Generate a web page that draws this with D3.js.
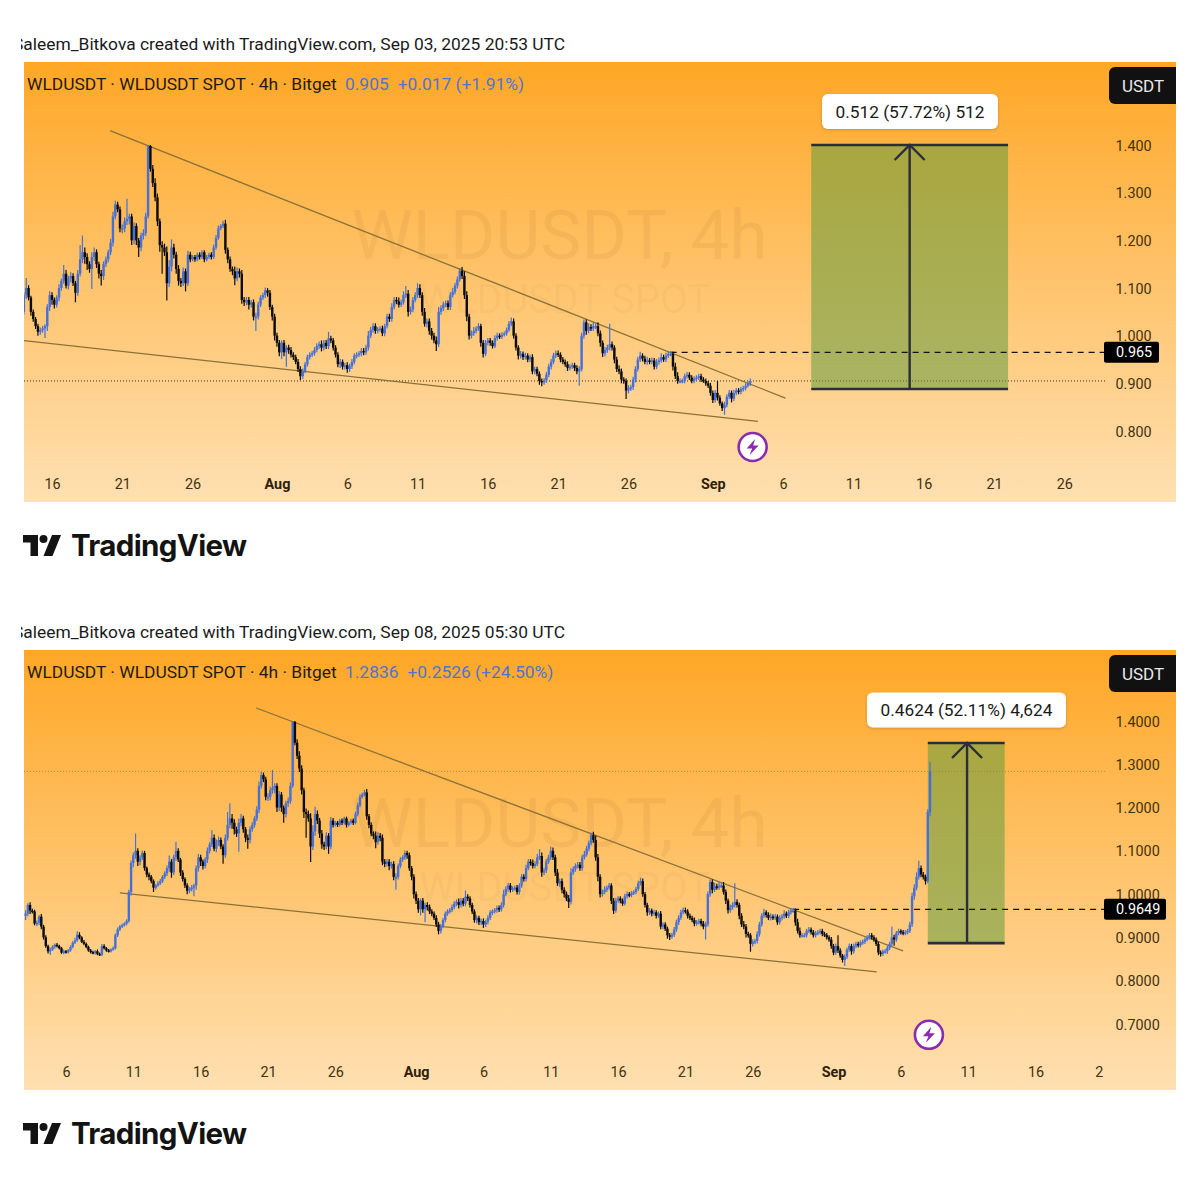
<!DOCTYPE html>
<html>
<head>
<meta charset="utf-8">
<style>
  html, body { margin: 0; background: #fff; }
  svg { display: block; }
  text { font-family: Roboto, sans-serif; }
  .tick text { font-size: 14.4px; fill: #43300f; font-family: Roboto, sans-serif; }
  .tick text.month { font-weight: 700; fill: #2e2008; }
</style>
</head>
<body>
<div id="chart"></div>
<script src="https://d3js.org/d3.v7.min.js"></script>
<script>
// 4h closes in thousandths of USDT, one row per day
var closesJul = [
  955,975,962,960,932,934, 948,925,900,880,868,872, 878,883,880,875,865,868,
  866,870,878,888,893,906, 900,890,885,878,870,866, 864,868,862,860,880,875,
  870,868,872,875,905,918, 925,928,932,938,1005,1072, 1090,1100,1075,1085,1095,1060,
  1045,1040,1030,1015,1020,1025, 1030,1040,1048,1060,1075,1050, 1085,1100,1080,1050,1035,1020,
  1008,1012,1015,1020,1060,1085, 1075,1065,1080,1100,1115,1130, 1105,1120,1125,1110,1090,1130,
  1160,1175,1165,1150,1140,1165, 1175,1150,1130,1125,1150,1160, 1175,1195,1250,1275,1265,1225,
  1225,1240,1245,1250,1200,1230, 1200,1185,1210,1215,1250,1398, 1350,1320,1290,1240,1190,1185,
  1175,1110,1145,1185,1170,1140, 1115,1110,1135,1110,1170,1160, 1165,1160,1170,1165,1175,1160,
  1165,1170,1165,1185,1205,1225, 1230,1235,1180,1160,1140,1135, 1120,1135,1130,1075,1070,1075,
  1065,1070,1040,1040,1065,1080, 1085,1095,1090,1060,1040,1000
];
var closesAug = [
  985,965,985,965,975,970, 960,955,945,930,915,925, 940,955,960,963,970,978,
  982,975,985,978,994,990, 975,960,940,945,935,938, 930,936,945,958,960,963,
  968,965,975,1000,1012,1020, 1010,1013,1015,1005,1020,1040, 1035,1060,1075,1072,1065,1070,
  1085,1088,1050,1055,1075,1085, 1100,1085,1050,1025,1030,1010, 1000,990,982,1050,1058,1065,
  1068,1060,1085,1092,1105,1118, 1136,1125,1085,1040,1000,1005, 1010,1015,1020,985,962,985,
  990,985,978,995,1000,998, 1002,1005,1012,1025,1030,1000, 975,958,962,955,958,950,
  955,925,930,920,905,902, 906,918,935,945,958,963, 960,950,945,940,932,935,
  938,932,925,930,1000,1028, 1010,1018,1015,1020,1020,1005, 985,963,970,975,982,975,
  950,930,925,908,905,885, 890,892,908,930,950,958, 952,945,948,945,948,935,
  945,948,955,950,958,962, 962,935,915,905,905,905, 915,918,912,905,910,912,
  915,908,905,900,895,880
];
var closesSep = [
  865,880,870,858,848,855, 872,880,868,880,885,882, 888,890,895,900,905,900,
  895,885,865,862,868,868, 876,885,900,895,910,915, 912,910,912,915,930,995,
  1015,1040,1060,1045,1040,1030, 1190,1283.6
];
// upper and lower wick lengths, same unit
var wickUpJul = [
  8,4,6,4,4,5, 4,6,4,5,3,4, 4,3,4,3,3,4, 3,3,4,3,6,8, 6,3,4,3,3,3, 3,3,4,3,5,4,
  3,3,3,4,4,5, 4,4,3,4,5,6, 6,40,6,5,6,5, 4,5,4,4,3,5, 5,4,5,6,14,6, 6,21,6,4,5,4,
  5,5,6,4,6,8, 6,5,5,8,5,18, 8,6,8,6,5,8, 30,35,10,8,6,10, 10,6,5,8,6,6, 5,8,10,8,6,6,
  8,8,42,6,6,8, 6,5,6,8,8,2, 2,8,10,8,6,8, 8,12,14,17,8,6, 8,6,8,6,8,6, 4,4,4,5,4,4,
  4,4,5,6,6,6, 4,6,8,5,6,5, 10,8,6,8,6,6, 6,5,6,8,6,5, 5,6,5,6,5,6
];
var wickDownJul = [
  10,6,8,5,4,6, 5,6,5,4,5,8, 3,4,3,3,3,4, 3,3,3,3,3,3, 4,3,3,3,3,3, 3,4,3,3,3,3,
  3,3,3,3,3,4, 3,3,3,4,4,8, 10,8,10,8,6,6, 6,8,5,10,4,3, 4,4,5,6,8,12, 6,8,6,8,6,6,
  8,6,6,20,10,8, 10,8,6,8,6,6, 6,8,8,6,20,6, 6,8,14,12,8,42, 8,8,10,20,8,6, 6,6,8,6,6,8,
  10,8,8,12,10,8, 10,20,8,8,6,4, 6,8,8,10,14,55, 8,36,8,10,8,10, 10,8,6,17,6,6, 4,5,4,5,4,6,
  4,4,5,4,5,4, 4,4,8,8,6,8, 14,6,8,8,8,6, 10,6,8,30,6,5, 5,6,8,6,8,10
];
var wickUpAug = [
  6,6,5,6,5,6, 6,5,5,6,6,6, 5,5,5,5,6,6, 6,8,6,6,14,6, 5,5,5,6,5,5, 6,5,6,5,5,5,
  6,6,6,10,6,6, 6,5,5,6,5,6, 6,8,6,6,8,6, 8,16,8,6,6,6, 10,8,6,8,6,6, 6,6,8,10,6,6,
  6,6,6,8,6,6, 6,8,10,8,6,6, 8,5,6,5,6,6, 5,5,5,6,6,5, 5,4,5,6,8,6, 5,5,6,5,6,5,
  5,6,5,5,5,5, 5,6,6,6,6,6, 6,5,5,5,6,5, 5,5,6,6,6,6, 6,8,6,8,6,8, 6,5,6,6,43,6,
  5,6,8,6,5,5, 6,5,6,6,6,8, 5,6,8,5,6,5, 6,6,8,5,6,6, 6,5,8,8,5,5, 5,6,5,5,5,5,
  5,5,5,5,5,6
];
var wickDownAug = [
  8,8,14,8,30,8, 6,6,5,6,8,6, 4,5,5,5,5,5, 6,8,6,6,6,6, 6,6,6,8,6,6, 8,6,6,5,6,5,
  6,6,5,6,5,6, 6,5,5,6,6,5, 6,6,5,6,6,5, 5,6,10,6,6,5, 6,6,8,6,8,8, 8,6,14,6,6,6,
  5,6,6,5,5,6, 5,6,8,10,8,6, 5,5,5,8,8,5, 5,6,5,4,5,5, 5,4,5,4,5,6, 6,8,6,6,5,6,
  5,6,6,5,8,8, 5,5,5,6,5,5, 5,6,5,5,6,5, 5,6,6,30,5,6, 8,5,5,5,6,6, 8,8,6,6,6,6,
  8,6,6,8,6,18, 6,6,6,6,5,5, 6,5,6,5,5,6, 5,6,5,5,5,5, 5,8,6,6,5,5, 5,5,5,5,5,5,
  5,5,4,5,5,6
];
var wickUpSep = [
  5,6,25,5,4,6, 5,6,5,6,5,5, 5,5,5,5,5,5, 5,5,5,5,4,5, 5,5,25,6,5,5, 4,5,5,5,6,8,
  8,10,17,6,6,5, 6,22
];
var wickDownSep = [
  6,5,6,5,6,14, 5,5,8,5,5,5, 5,5,5,4,5,5, 5,5,6,6,5,5, 6,5,6,14,5,5, 5,5,5,5,5,6,
  8,6,6,6,6,8, 4,10
];

var topDates = ['2025-07-16','2025-07-21','2025-07-26','2025-08-01','2025-08-06','2025-08-11','2025-08-16','2025-08-21','2025-08-26','2025-09-01','2025-09-06','2025-09-11','2025-09-16','2025-09-21','2025-09-26'];
var topDateLabels = ['16','21','26','Aug','6','11','16','21','26','Sep','6','11','16','21','26'];
var bottomDates = ['2025-07-06','2025-07-11','2025-07-16','2025-07-21','2025-07-26','2025-08-01','2025-08-06','2025-08-11','2025-08-16','2025-08-21','2025-08-26','2025-09-01','2025-09-06','2025-09-11','2025-09-16','2025-09-21'];
var bottomDateLabels = ['6','11','16','21','26','Aug','6','11','16','21','26','Sep','6','11','16','2'];
var topPrices = [0.8, 0.9, 1.0, 1.1, 1.2, 1.3, 1.4];
var bottomPrices = [0.7, 0.8, 0.9, 1.0, 1.1, 1.2, 1.3, 1.4];

// shared trendlines [date, price]
var upperTrend = [['2025-07-20T03:00Z', 1.43], ['2025-09-06T04:00Z', 0.869]];
var lowerTrend = [['2025-07-10T00:00Z', 1.0028], ['2025-09-04T05:00Z', 0.8203]];

var H4 = 4 * 3600 * 1000,
    start = Date.UTC(2025, 6, 3),
    closes = closesJul.concat(closesAug, closesSep),
    wickUp = wickUpJul.concat(wickUpAug, wickUpSep),
    wickDown = wickDownJul.concat(wickDownAug, wickDownSep);

var candles = closes.map(function (c, i) {
  var o = i ? closes[i - 1] : 950;
  return {
    date: new Date(start + i * H4),
    open: o / 1000,
    close: c / 1000,
    high: (Math.max(o, c) + wickUp[i]) / 1000,
    low: (Math.min(o, c) - wickDown[i]) / 1000
  };
});

var svg = d3.select('#chart').append('svg').attr('width', 1200).attr('height', 1200);
var defs = svg.append('defs');

var grad = defs.append('linearGradient').attr('id', 'bg').attr('x1', 0).attr('y1', 0).attr('x2', 0).attr('y2', 1);
grad.append('stop').attr('offset', 0).attr('stop-color', '#ffa726');
grad.append('stop').attr('offset', 1).attr('stop-color', '#ffe0b2');

var shadow = defs.append('filter').attr('id', 'soft').attr('x', '-10%').attr('y', '-20%').attr('width', '120%').attr('height', '150%');
shadow.append('feDropShadow').attr('dx', 0).attr('dy', 1).attr('stdDeviation', 1.5).attr('flood-color', '#000').attr('flood-opacity', 0.2);

function drawPanel(p) {
  var g = svg.append('g');
  var clipId = 'plot' + p.top;

  defs.append('clipPath').attr('id', clipId).append('rect')
    .attr('x', 24).attr('y', p.top).attr('width', 1081).attr('height', 440);
  defs.append('clipPath').attr('id', 'title' + p.top).append('rect')
    .attr('x', 21).attr('y', p.top - 30).attr('width', 1100).attr('height', 30);

  // the range ends on the Sep 21 (top) and Sep 16 (bottom) ticks
  var x = d3.scaleUtc().domain([new Date(p.dates[0]), new Date(p.xEnd)]).range(p.xRange);
  var y = d3.scaleLinear().domain([p.prices[0], 1.4]).range(p.yRange);

  g.append('text').attr('clip-path', 'url(#title' + p.top + ')')
    .attr('x', 13).attr('y', p.top - 12)
    .attr('font-size', 17.4).attr('fill', '#1a1a1a').text(p.title);

  g.append('rect').attr('x', 24).attr('y', p.top).attr('width', 1152).attr('height', 440).attr('fill', 'url(#bg)');

  // watermark
  g.append('text').attr('x', 559.5).attr('y', p.top + 197).attr('text-anchor', 'middle')
    .attr('font-size', 69.2).attr('fill', 'rgba(70,40,0,0.055)').text('WLDUSDT, 4h');
  g.append('text').attr('x', 565).attr('y', p.top + 251).attr('text-anchor', 'middle')
    .attr('font-size', 40).attr('fill', 'rgba(70,40,0,0.055)').text('WLDUSDT SPOT');

  // header
  var head = g.append('text').attr('x', 27).attr('y', p.top + 28).attr('font-size', 17.4);
  head.append('tspan').attr('fill', '#1f1a12').text('WLDUSDT · WLDUSDT SPOT · 4h · Bitget');
  head.append('tspan').attr('x', 345).attr('fill', '#4f74cf').text(p.quote);
  head.append('tspan').attr('dx', 9).attr('fill', '#4f74cf').text(p.change);

  var plot = g.append('g').attr('clip-path', 'url(#' + clipId + ')');

  // last price dotted line
  plot.append('line').attr('x1', 24).attr('x2', 1105).attr('y1', y(p.last)).attr('y2', y(p.last))
    .attr('stroke', p.lastColor).attr('stroke-width', 1).attr('stroke-dasharray', '1 2');

  // target box
  var bx1 = x(new Date(p.box[0])), bx2 = x(new Date(p.box[1])), ax = x(new Date(p.box[2]));
  var by1 = y(p.box[3]), by2 = y(p.box[4]);
  plot.append('rect').attr('x', bx1).attr('y', by2).attr('width', bx2 - bx1).attr('height', by1 - by2)
    .attr('fill', 'rgba(99,156,64,0.55)');
  plot.selectAll('.edge').data([by1, by2]).enter().append('line').attr('class', 'edge')
    .attr('x1', bx1).attr('x2', bx2).attr('y1', function (d) { return d; }).attr('y2', function (d) { return d; })
    .attr('stroke', '#2a2e39').attr('stroke-width', 2.6);
  plot.append('line').attr('x1', ax).attr('x2', ax).attr('y1', by1).attr('y2', by2)
    .attr('stroke', '#2a2e39').attr('stroke-width', 2.4);
  plot.append('path').attr('d', d3.line()([[ax - 15, by2 + 15], [ax, by2], [ax + 15, by2 + 15]]))
    .attr('fill', 'none').attr('stroke', '#2a2e39').attr('stroke-width', 2.4);

  // entry dashed line
  plot.append('line').attr('x1', x(new Date(p.entryDate))).attr('x2', 1105).attr('y1', y(p.entry)).attr('y2', y(p.entry))
    .attr('stroke', '#111').attr('stroke-width', 1.2).attr('stroke-dasharray', '6 5');

  // trendlines
  [upperTrend, lowerTrend].forEach(function (t) {
    plot.append('line')
      .attr('x1', x(new Date(t[0][0]))).attr('y1', y(t[0][1]))
      .attr('x2', x(new Date(t[1][0]))).attr('y2', y(t[1][1]))
      .attr('stroke', '#8b7137').attr('stroke-width', 1.3);
  });

  // candles
  var data = candles.filter(function (d) { return +d.date <= p.end; });
  var candle = plot.selectAll('.candle').data(data).enter().append('g').attr('class', 'candle');
  var colour = function (d) { return d.close >= d.open ? '#4470d8' : '#0b0b0b'; };
  candle.append('line')
    .attr('x1', function (d) { return x(d.date); }).attr('x2', function (d) { return x(d.date); })
    .attr('y1', function (d) { return y(d.high); }).attr('y2', function (d) { return y(d.low); })
    .attr('stroke', colour).attr('stroke-width', 1.2);
  candle.append('rect')
    .attr('x', function (d) { return x(d.date) - 1.2; }).attr('width', 2.4)
    .attr('y', function (d) { return y(Math.max(d.open, d.close)); })
    .attr('height', function (d) { return Math.max(1.5, Math.abs(y(d.open) - y(d.close))); })
    .attr('fill', colour);

  // axes
  var xAxis = g.append('g').attr('transform', 'translate(0,' + (p.top + 416.5) + ')')
    .call(d3.axisBottom(x).tickValues(p.dates.map(function (d) { return new Date(d); }))
      .tickFormat(function (d, i) { return p.dateLabels[i]; }).tickSize(0).tickPadding(0));
  xAxis.select('.domain').remove();
  xAxis.selectAll('.tick text').attr('class', function (d, i) {
    return /[A-Z]/.test(p.dateLabels[i]) ? 'month' : null;
  }).attr('dx', function (d, i) { return p.dateLabels[i] === '2' ? -4 : 0; });

  var yAxis = g.append('g').attr('transform', 'translate(1115.5,0.5)')
    .call(d3.axisRight(y).tickValues(p.prices).tickFormat(d3.format(p.priceFormat)).tickSize(0).tickPadding(0));
  yAxis.select('.domain').remove();

  // USDT badge
  g.append('path').attr('d', 'M1176 ' + (p.top + 5) + 'H1115a6 6 0 0 0 -6 6V' + (p.top + 36) + 'a6 6 0 0 0 6 6H1176Z').attr('fill', '#111');
  g.append('text').attr('x', 1143).attr('y', p.top + 30).attr('text-anchor', 'middle')
    .attr('font-size', 17).attr('fill', '#e8e8e8').text('USDT');

  // entry price badge
  g.append('rect').attr('x', 1104).attr('y', y(p.entry) - 10.5).attr('width', p.entryWidth).attr('height', 21).attr('rx', 2).attr('fill', '#000');
  g.append('text').attr('x', 1116).attr('y', y(p.entry) + 5).attr('font-size', 14.4).attr('fill', '#fff').text(p.entryLabel);

  // measure callout
  var cx = p.callout[0], cw = p.callout[1], cy = p.callout[2];
  g.append('rect').attr('x', cx).attr('y', cy).attr('width', cw).attr('height', 35).attr('rx', 6)
    .attr('fill', '#fff').attr('filter', 'url(#soft)');
  g.append('text').attr('x', cx + cw / 2).attr('y', cy + 23.5).attr('text-anchor', 'middle')
    .attr('font-size', 17.3).attr('fill', '#1a1a1a').text(p.calloutText);

  // lightning marker
  var mk = g.append('g').attr('transform', 'translate(' + x(new Date(p.marker[0])) + ',' + y(p.marker[1]) + ')');
  mk.append('circle').attr('r', 14).attr('fill', '#fff').attr('stroke', '#8a2bb0').attr('stroke-width', 2.6);
  mk.append('path').attr('d', 'M2.5 -8L-6 1.5H-0.5L-3 8L6 -1.5H0.5Z').attr('fill', '#8a2bb0');

  // logo
  var lg = g.append('g').attr('transform', 'translate(23,' + (p.top + 473) + ')').attr('fill', '#131313');
  lg.append('path').attr('d', 'M0 0H15V21H7.5V7.5H0Z');
  lg.append('circle').attr('cx', 20.5).attr('cy', 4).attr('r', 4);
  lg.append('path').attr('d', 'M29 0H38L29.5 21H20.5Z');
  g.append('text').attr('x', 71).attr('y', p.top + 494)
    .style('font-family', 'Inter, sans-serif').attr('font-weight', 700).attr('font-size', 29.5)
    .attr('letter-spacing', -0.65).attr('fill', '#131313').text('TradingView');
}

drawPanel({
  top: 62,
  title: 'Saleem_Bitkova created with TradingView.com, Sep 03, 2025 20:53 UTC',
  quote: '0.905', change: '+0.017 (+1.91%)',
  dates: topDates, dateLabels: topDateLabels, xEnd: '2025-09-21', xRange: [52, 994],
  prices: topPrices, priceFormat: '.3f', yRange: [431, 145],
  end: Date.UTC(2025, 8, 3, 16),
  last: 0.905, lastColor: '#3b2a10',
  entry: 0.965, entryDate: '2025-08-29T00:00Z', entryLabel: '0.965', entryWidth: 55,
  box: ['2025-09-08T00:00Z', '2025-09-22T00:00Z', '2025-09-15T00:00Z', 0.888, 1.4],
  callout: [822, 176, 94], calloutText: '0.512 (57.72%) 512',
  marker: ['2025-09-03T20:00Z', 0.7665]
});

drawPanel({
  top: 650,
  title: 'Saleem_Bitkova created with TradingView.com, Sep 08, 2025 05:30 UTC',
  quote: '1.2836', change: '+0.2526 (+24.50%)',
  dates: bottomDates, dateLabels: bottomDateLabels, xEnd: '2025-09-16', xRange: [66, 1035.5],
  prices: bottomPrices, priceFormat: '.4f', yRange: [1024, 721],
  end: Date.UTC(2025, 8, 8, 4),
  last: 1.2836, lastColor: '#b08a50',
  entry: 0.9649, entryDate: '2025-08-29T00:00Z', entryLabel: '0.9649', entryWidth: 62,
  box: ['2025-09-08T00:00Z', '2025-09-13T17:00Z', '2025-09-10T22:00Z', 0.8868, 1.3492],
  callout: [867, 199, 692.5], calloutText: '0.4624 (52.11%) 4,624',
  marker: ['2025-09-08T02:00Z', 0.675]
});
</script>
</body>
</html>
